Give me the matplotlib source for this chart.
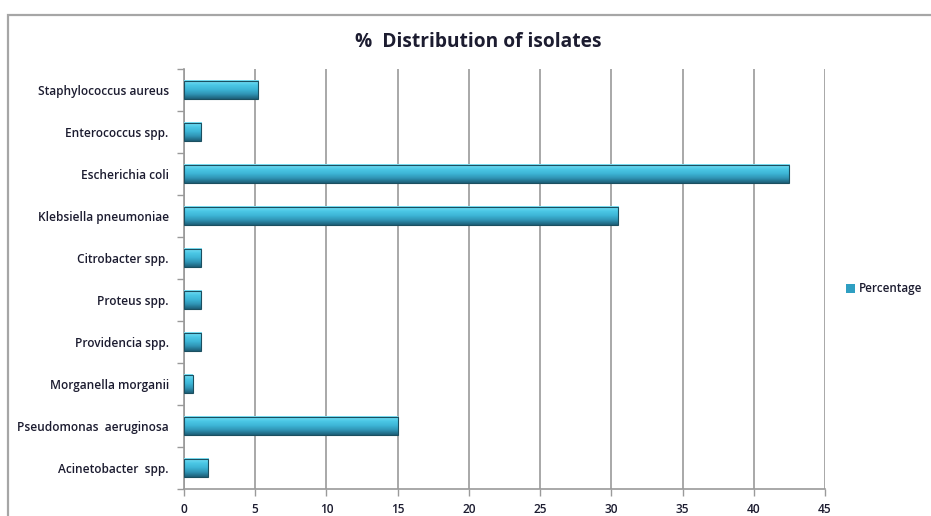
import numpy as np
import matplotlib.pyplot as plt
from matplotlib.patches import Rectangle
from matplotlib.colors import LinearSegmentedColormap

isolates = ["Staphylococcus aureus", "Enterococcus spp.", "Escherichia coli",
            "Klebsiella pneumoniae", "Citrobacter spp.", "Proteus spp.",
            "Providencia spp.", "Morganella morganii", "Pseudomonas  aeruginosa",
            "Acinetobacter  spp."]
percentage = [5.2, 1.2, 42.5, 30.5, 1.2, 1.2, 1.2, 0.6, 15.0, 1.7]
x_ticks = [0, 5, 10, 15, 20, 25, 30, 35, 40, 45]

plt.rcParams['font.family'] = ['Open Sans', 'DejaVu Sans']
text_color = '#1c1c30'
grid_color = '#9a9a9a'

fig = plt.figure(figsize=(9.31, 5.16), dpi=100)
ax = fig.add_axes([0.1976, 0.0523, 0.6885, 0.8140])

# outer chart frame
fig.patches.append(Rectangle((8 / 931, -0.1), 1.2, (516 - 15) / 516 + 0.1,
                             transform=fig.transFigure, fill=False,
                             edgecolor='#a6a6a6', linewidth=1.6))

# shaded cylinder-like fill for bars
bar_cmap = LinearSegmentedColormap.from_list(
    'bar', ['#1d5f77', '#2f93b3', '#3db5d6', '#4cc8e6', '#7fe3f7'])
grad = np.linspace(0, 1, 64).reshape(-1, 1)

n = len(isolates)
ypos = np.arange(n)[::-1]
h = 0.45
for y, v in zip(ypos, percentage):
    ax.imshow(grad, extent=[0, v, y - h / 2, y + h / 2], cmap=bar_cmap,
              aspect='auto', origin='lower', zorder=3, interpolation='bilinear')
    ax.add_patch(Rectangle((0, y - h / 2), v, h, fill=False,
                           edgecolor='#1b4f60', linewidth=0.8, zorder=4))

ax.bar([0], [0], color='#2f9fc2', label='Percentage')

ax.set_xlim(0, 45)
ax.set_ylim(-0.5, n - 0.5)
ax.set_xticks(x_ticks)
ax.set_xticklabels([str(t) for t in x_ticks])
ax.set_yticks(ypos)
ax.set_yticklabels(isolates)
ax.set_yticks(np.arange(n + 1) - 0.5, minor=True)
ax.tick_params(axis='y', which='major', length=0, pad=11,
               labelsize=8.6, labelcolor=text_color)
ax.tick_params(axis='y', which='minor', length=5, width=1, color=grid_color)
ax.tick_params(axis='x', length=5, width=1, color=grid_color,
               labelsize=8.6, labelcolor=text_color, pad=5)
for lbl in ax.get_xticklabels() + ax.get_yticklabels():
    lbl.set_fontweight('semibold')

ax.grid(axis='x', color=grid_color, linewidth=1.2, zorder=0)
ax.set_axisbelow(True)
for side in ['top', 'right']:
    ax.spines[side].set_visible(False)
for side in ['left', 'bottom']:
    ax.spines[side].set_color(grid_color)
    ax.spines[side].set_linewidth(1.2)

fig.text(0.514, 0.918, '%  Distribution of isolates', ha='center', va='center',
         fontsize=13.8, fontweight='bold', color=text_color)

leg = fig.legend(loc='center left', bbox_to_anchor=(0.897, 0.44), frameon=False,
                 handlelength=0.8, handleheight=0.8, handletextpad=0.3,
                 prop={'size': 8.4, 'weight': 'semibold'})
for t in leg.get_texts():
    t.set_color(text_color)

fig.savefig('out.png', dpi=100)
